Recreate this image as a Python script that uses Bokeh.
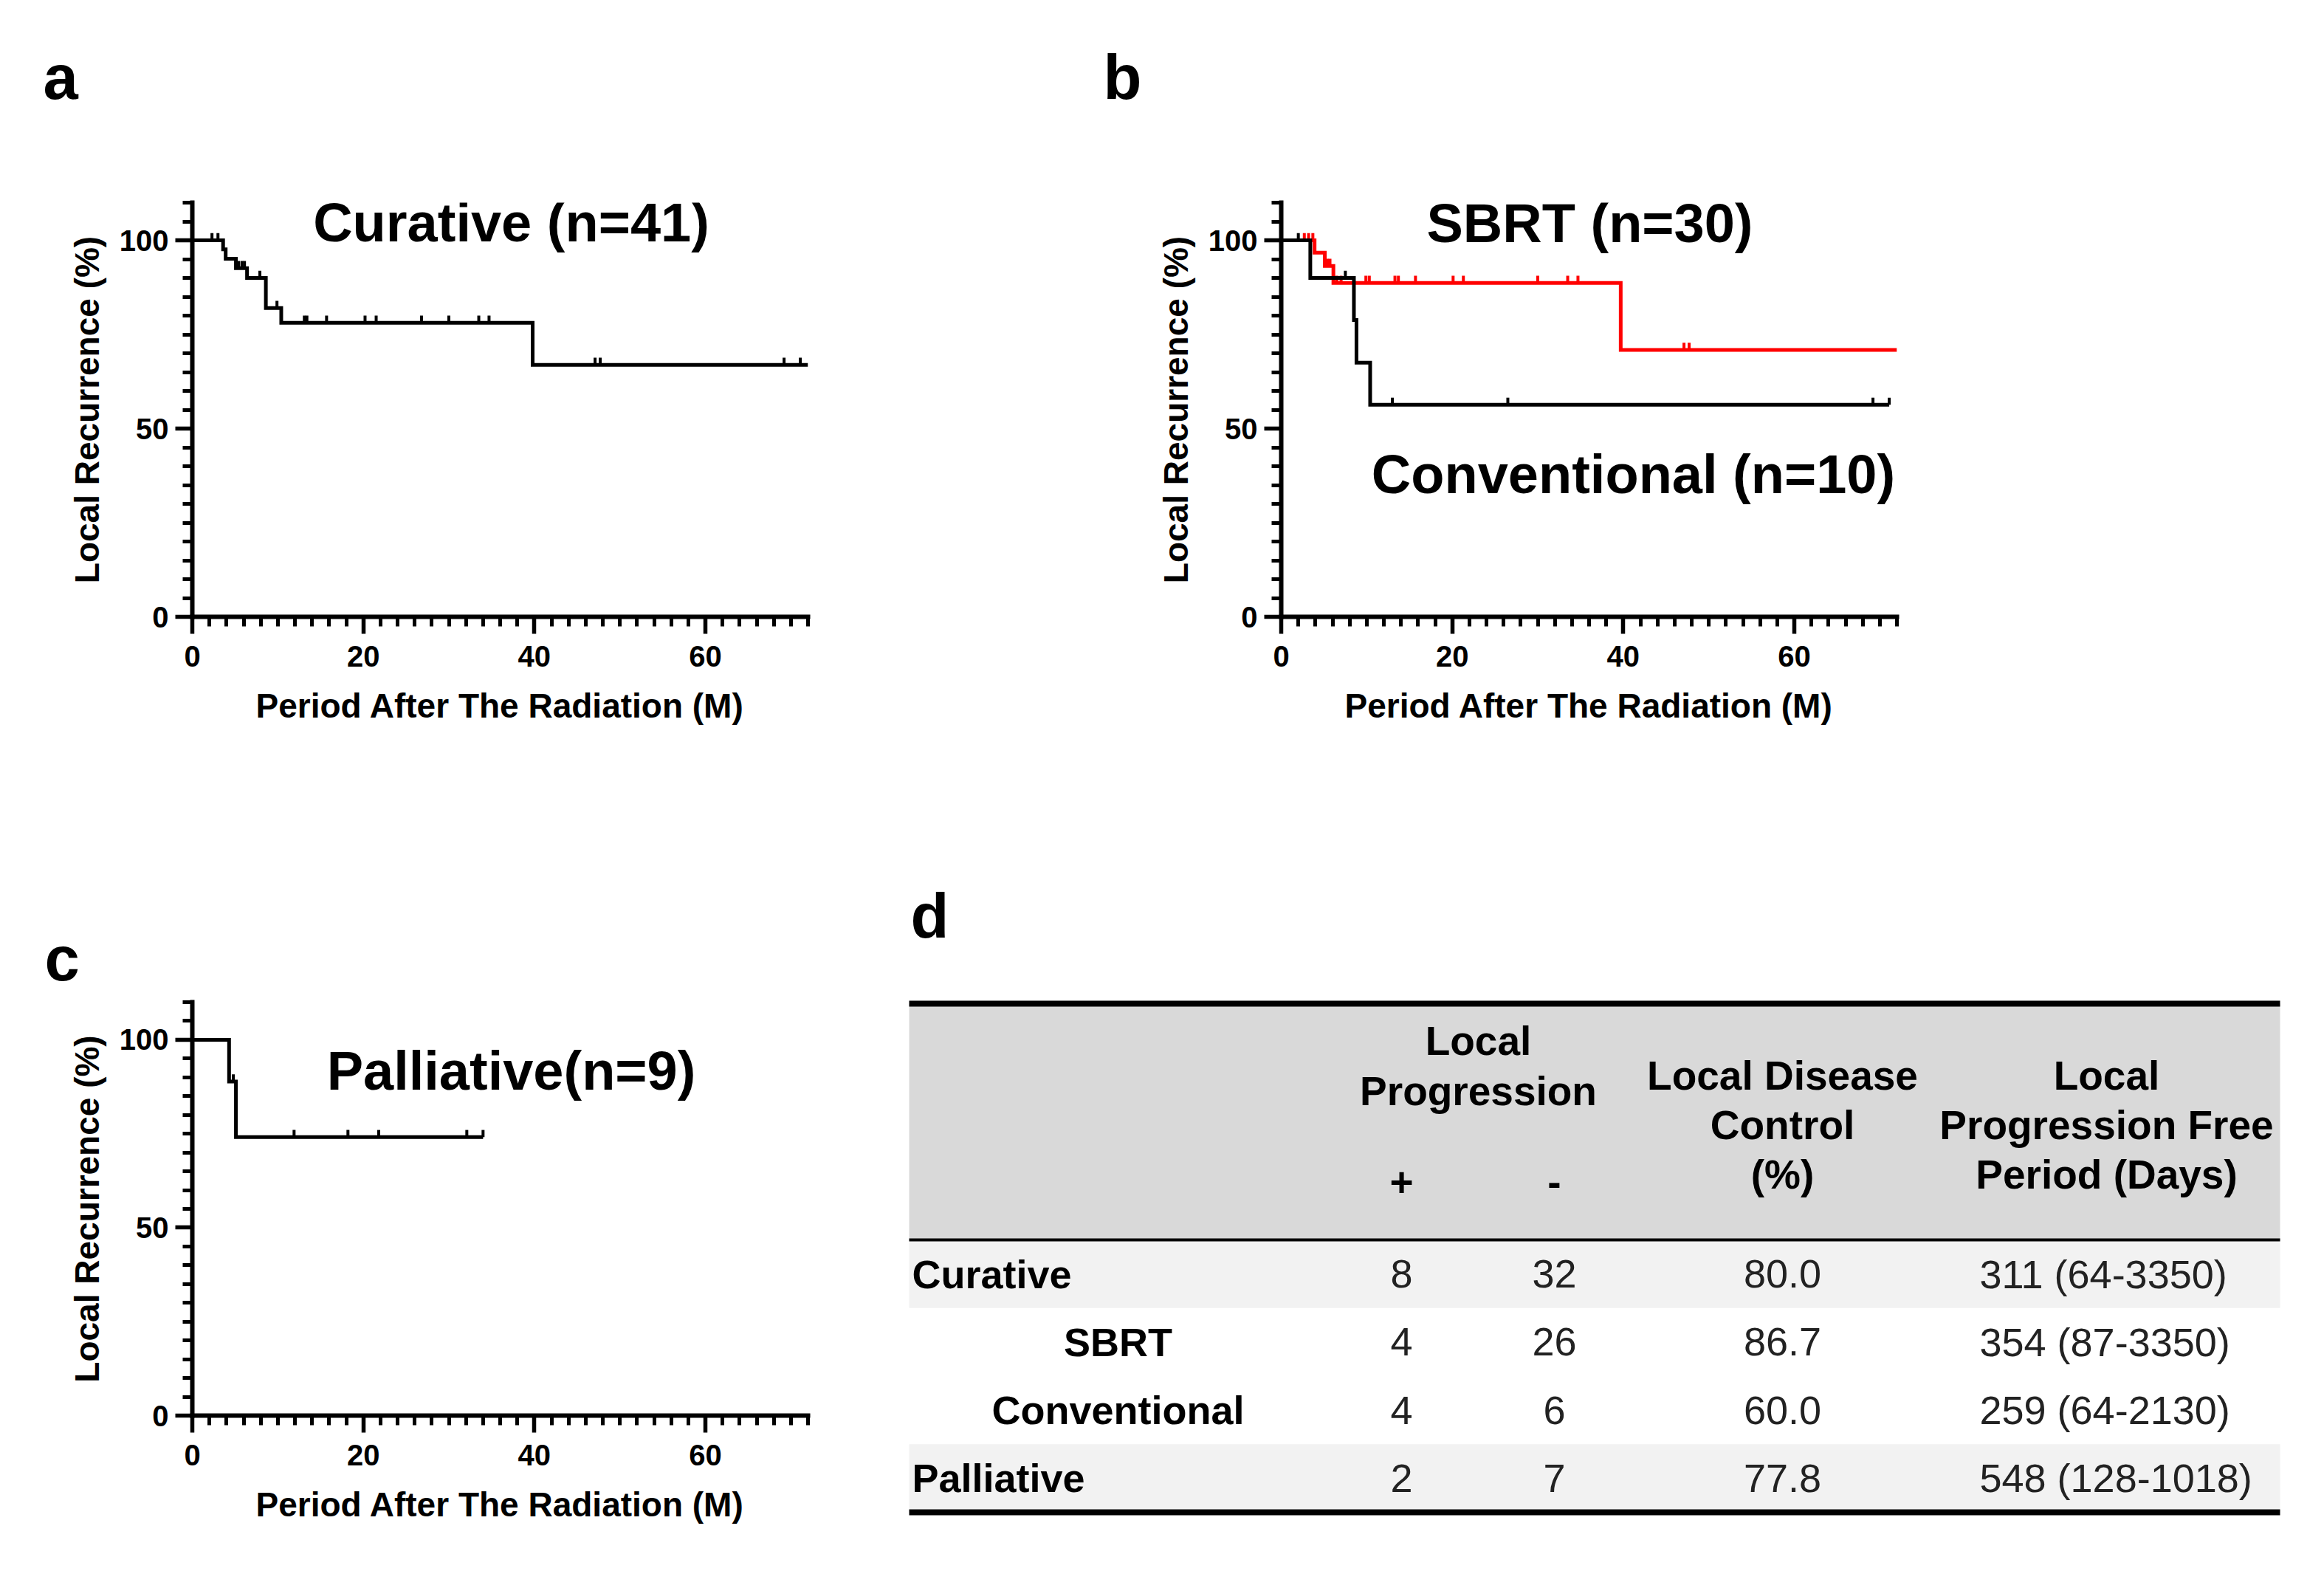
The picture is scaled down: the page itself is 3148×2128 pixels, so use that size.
import numpy as np
from bokeh.plotting import figure
from bokeh.models import Range1d, FixedTicker, Label, Title
from bokeh.layouts import row, column
from bokeh.embed import file_html
from bokeh.resources import INLINE
from bokeh.core.properties import value

# ------------------------------------------------------------------ data
x_ticks = [0, 20, 40, 60]
y_ticks = [0, 50, 100]
x_label = "Period After The Radiation (M)"
y_label = "Local Recurrence (%)"

# a: Curative (n=41)
cur_times = [0, 3.6, 3.9, 5.1, 6.4, 8.6, 10.4, 39.8]
cur_surv = [100, 97.6, 95.1, 92.6, 90.0, 82.0, 78.1, 66.9]
cur_end = 72.0
cur_cens = [2.3, 3.0, 5.4, 5.8, 6.1, 7.9, 9.9, 13.1, 13.4, 15.7, 20.2, 21.5,
            26.8, 30.0, 33.5, 34.7, 47.1, 47.7, 69.2, 71.1]

# b: SBRT (n=30) red, Conventional (n=10) black
sbrt_times = [0, 3.9, 5.1, 6.1, 39.7]
sbrt_surv = [100, 96.7, 93.2, 88.7, 70.9]
sbrt_end = 72.0
sbrt_cens = [2.7, 3.2, 3.7, 5.4, 5.7, 6.5, 7.0, 9.9, 10.3, 13.3, 13.7, 15.7,
             20.1, 21.3, 30.0, 33.5, 34.7, 47.1, 47.7]

conv_times = [0, 3.4, 8.5, 8.8, 10.4]
conv_surv = [100, 90.0, 78.8, 67.5, 56.3]
conv_end = 71.1
conv_cens = [2.0, 7.5, 13.0, 26.5, 69.2, 71.1]

# c: Palliative (n=9)
pal_times = [0, 4.3, 5.1]
pal_surv = [100, 88.9, 74.1]
pal_end = 34.0
pal_cens = [4.8, 11.9, 18.2, 21.8, 32.1, 34.0]

# d: table
table_groups = ["Curative", "SBRT", "Conventional", "Palliative"]
table_lp_pos = [8, 4, 4, 2]
table_lp_neg = [32, 26, 6, 7]
table_ldc = [80.0, 86.7, 60.0, 77.8]
table_lpfp_median = [311, 354, 259, 548]
table_lpfp_min = [64, 87, 64, 128]
table_lpfp_max = [3350, 3350, 2130, 1018]
subgroups = ["SBRT", "Conventional"]

# ------------------------------------------------------------------ style
FONT = "Liberation Sans"
XMAX, YMAX = 72, 110
FRAME_W = 834
RED = "#ff0000"
TICK_UNITS = 1.9      # censor tick height (y units)


def km_fig(width, height, left, top, frame_h):
    p = figure(width=width, height=height,
               x_range=Range1d(0, XMAX), y_range=Range1d(0, YMAX),
               output_backend="svg", toolbar_location=None,
               min_border_left=left, min_border_top=top,
               min_border_right=width - left - FRAME_W,
               min_border_bottom=height - top - frame_h)
    p.outline_line_color = None
    p.grid.visible = False
    p.background_fill_color = "white"
    p.border_fill_color = "white"
    p.xaxis.ticker = FixedTicker(ticks=x_ticks, minor_ticks=list(range(0, XMAX + 1, 2)))
    p.yaxis.ticker = FixedTicker(ticks=y_ticks, minor_ticks=list(range(0, YMAX + 1, 5)))
    p.xaxis.axis_label = x_label
    p.yaxis.axis_label = y_label
    for ax in p.axis:
        ax.axis_line_width = 6
        ax.axis_line_color = "black"
        ax.axis_line_cap = "square"
        ax.major_tick_line_width = 5.5
        ax.minor_tick_line_width = 5
        ax.major_tick_line_color = "black"
        ax.minor_tick_line_color = "black"
        ax.major_tick_in = 0
        ax.minor_tick_in = 0
        ax.major_tick_out = 23
        ax.minor_tick_out = 13
        ax.major_label_text_font = FONT
        ax.major_label_text_font_size = "40px"
        ax.major_label_text_font_style = "bold"
        ax.major_label_text_color = "black"
        ax.axis_label_text_font = FONT
        ax.axis_label_text_font_size = "46px"
        ax.axis_label_text_font_style = "bold"
        ax.axis_label_text_color = "black"
    p.xaxis.major_label_standoff = 16
    p.yaxis.major_label_standoff = 9
    p.xaxis.axis_label_standoff = 24
    p.yaxis.axis_label_standoff = 15
    return p


def draw_km(p, times, surv, end, cens, color):
    xs = list(times) + [end]
    ys = list(surv) + [surv[-1]]
    p.step(xs, ys, mode="after", line_color=color, line_width=5, line_join="miter")
    t = np.asarray(times, dtype=float)
    s = np.asarray(surv, dtype=float)
    c = np.asarray(cens, dtype=float)
    cy = s[np.searchsorted(t, c, side="right") - 1]
    p.segment(x0=c, y0=cy, x1=c, y1=cy + TICK_UNITS, line_color=color, line_width=4)


def add_title(p, geom, px, py, text):
    fl, ft, fh = geom
    x = (px - fl) * XMAX / FRAME_W
    y = (ft + fh - py) * YMAX / fh
    p.add_layout(Label(x=x, y=y, text=text, text_font=FONT, text_font_size="74px",
                       text_font_style="bold", text_color="black",
                       text_align="center", text_baseline="middle"))


def panel_letter(p, geom, px, text, standoff, spacer_px=None):
    if spacer_px is not None:
        # invisible spacer in the top panel, between the frame and the letter
        p.add_layout(Title(text=" ", text_font=FONT, text_font_size=spacer_px, standoff=0,
                           text_color="white"), "above")
    p.title.text = text
    p.title.text_font = FONT
    p.title.text_font_size = "85px"
    p.title.text_font_style = "bold"
    p.title.text_color = "black"
    p.title.align = "left"
    p.title.offset = px - geom[0]
    p.title.vertical_align = "bottom"
    p.title.standoff = standoff


# page geometry of plot frames: (frame left, frame top, frame height)
GA = (260, 274, 561)
GB = (1735, 274, 561)
GC = (260, 1357, 560)
ROW1_H, ROW2_H = 1122, 990
COL1_W = 1472
COL2_W = 1660
C_W = 1192
D_W = 1940

# ---- panel a
pa = km_fig(COL1_W, ROW1_H, GA[0], GA[1], GA[2])
draw_km(pa, cur_times, cur_surv, cur_end, cur_cens, "black")
add_title(pa, GA, 692, 301, "Curative (n=41)")
panel_letter(pa, GA, 58, "a", 108, "60px")

# ---- panel b
pb = km_fig(COL2_W, ROW1_H, GB[0] - COL1_W, GB[1], GB[2])
draw_km(pb, sbrt_times, sbrt_surv, sbrt_end, sbrt_cens, RED)
draw_km(pb, conv_times, conv_surv, conv_end, conv_cens, "black")
add_title(pb, GB, 2153, 302, "SBRT (n=30)")
add_title(pb, GB, 2212, 642, "Conventional (n=10)")
panel_letter(pb, GB, 1494, "b", 108, "60px")

# ---- panel c
pc = km_fig(C_W, ROW2_H, GC[0], GC[1] - ROW1_H, GC[2])
draw_km(pc, pal_times, pal_surv, pal_end, pal_cens, "black")
add_title(pc, GC, 692, 1450, "Palliative(n=9)")
panel_letter(pc, GC, 60, "c", 24)

# ---- panel d (table), page coordinates
pd_ = figure(width=D_W, height=ROW2_H, x_range=Range1d(C_W, C_W + D_W),
             y_range=Range1d(ROW1_H + ROW2_H, ROW1_H),
             output_backend="svg", toolbar_location=None,
             x_axis_location=None, y_axis_location=None, min_border=0)
pd_.outline_line_color = None
pd_.grid.visible = False

T_LEFT, T_RIGHT = 1231, 3088
T_TOP, T_HDR, T_BOT = 1359, 1679, 2048
ROW_H = (T_BOT - T_HDR) / len(table_groups)
row_y = [T_HDR + ROW_H * (i + 0.5) for i in range(len(table_groups))]

COL_LABEL_L = 1235
COL_SUB = 1514
COL_POS = 1898
COL_NEG = 2105
COL_LP = 2002
COL_LDC = 2414
COL_LPFP = 2853
COL_LPFP_L = 2681

pd_.quad(left=T_LEFT, right=T_RIGHT, top=T_TOP, bottom=T_HDR, fill_color="#d9d9d9", line_color=None)
stripe = [i for i, g in enumerate(table_groups) if g not in subgroups]
pd_.quad(left=[T_LEFT] * len(stripe), right=[T_RIGHT] * len(stripe),
         top=[row_y[i] - ROW_H / 2 for i in stripe], bottom=[row_y[i] + ROW_H / 2 for i in stripe],
         fill_color="#f2f2f2", line_color=None)
pd_.segment(x0=T_LEFT, y0=T_TOP, x1=T_RIGHT, y1=T_TOP, line_color="black", line_width=8)
pd_.segment(x0=T_LEFT, y0=T_HDR, x1=T_RIGHT, y1=T_HDR, line_color="black", line_width=4)
pd_.segment(x0=T_LEFT, y0=T_BOT, x1=T_RIGHT, y1=T_BOT, line_color="black", line_width=8)

hdr_kw = dict(text_font=value(FONT), text_font_size=value("55px"), text_font_style="bold",
              text_color="black", text_align="center", text_baseline="middle")
pd_.text(x=[COL_LP, COL_LP, COL_POS, COL_NEG], y=[1409, 1477, 1600, 1600],
         text=["Local", "Progression", "+", "-"], **hdr_kw)
pd_.text(x=[COL_LDC] * 3, y=[1456, 1523, 1590], text=["Local Disease", "Control", "(%)"], **hdr_kw)
pd_.text(x=[COL_LPFP] * 3, y=[1456, 1523, 1590],
         text=["Local", "Progression Free", "Period (Days)"], **hdr_kw)

main_idx = [i for i, g in enumerate(table_groups) if g not in subgroups]
sub_idx = [i for i, g in enumerate(table_groups) if g in subgroups]
lbl_kw = dict(text_font=value(FONT), text_font_size=value("54px"), text_font_style="bold",
              text_color="black", text_baseline="middle")
pd_.text(x=[COL_LABEL_L] * len(main_idx), y=[row_y[i] for i in main_idx],
         text=[table_groups[i] for i in main_idx], text_align="left", **lbl_kw)
pd_.text(x=[COL_SUB] * len(sub_idx), y=[row_y[i] for i in sub_idx],
         text=[table_groups[i] for i in sub_idx], text_align="center", **lbl_kw)

num_kw = dict(text_font=value(FONT), text_font_size=value("54px"), text_font_style="normal",
              text_color="#222222", text_baseline="middle")
n = len(table_groups)
pd_.text(x=[COL_POS] * n, y=row_y, text=[str(v) for v in table_lp_pos], text_align="center", **num_kw)
pd_.text(x=[COL_NEG] * n, y=row_y, text=[str(v) for v in table_lp_neg], text_align="center", **num_kw)
pd_.text(x=[COL_LDC] * n, y=row_y, text=[f"{v:.1f}" for v in table_ldc], text_align="center", **num_kw)
pd_.text(x=[COL_LPFP_L] * n, y=row_y,
         text=[f"{m} ({lo}-{hi})" for m, lo, hi in zip(table_lpfp_median, table_lpfp_min, table_lpfp_max)],
         text_align="left", **num_kw)

pd_.text(x=[1233], y=[1240], text=["d"], text_font=value(FONT), text_font_size=value("85px"),
         text_font_style="bold", text_color="black", text_align="left", text_baseline="middle")

layout = column(row(pa, pb), row(pc, column(pd_)))
open("out.html", "w").write(file_html(layout, INLINE))
